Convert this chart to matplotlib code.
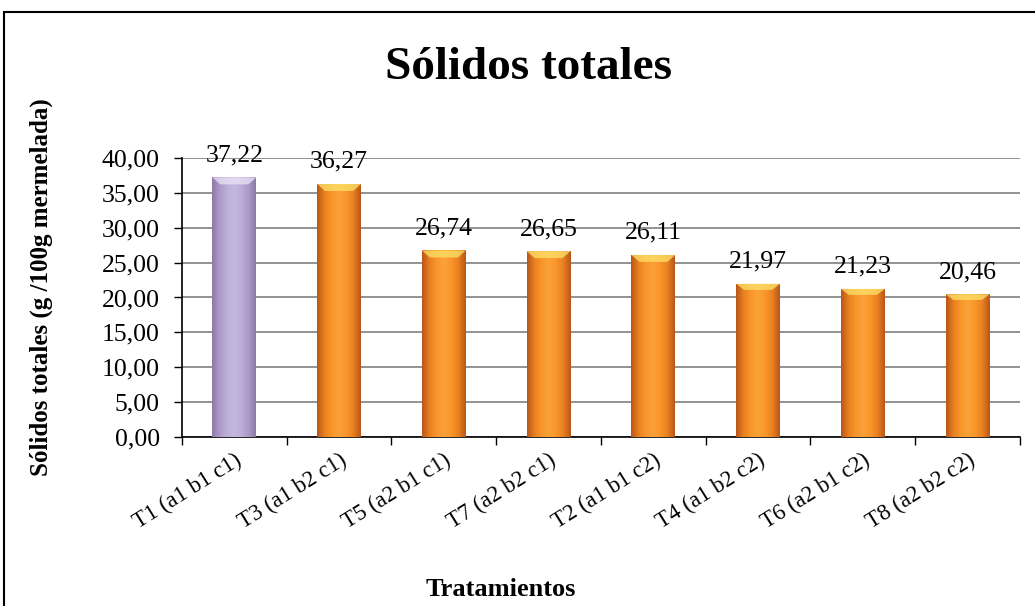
import numpy as np
import matplotlib.pyplot as plt
from matplotlib.colors import LinearSegmentedColormap
from matplotlib.patches import Rectangle
from matplotlib.ticker import FuncFormatter, FixedLocator

plt.rcParams['font.family'] = ['Liberation Serif', 'DejaVu Serif']

tratamientos = ['T1 (a1 b1 c1)', 'T3 (a1 b2 c1)', 'T5 (a2 b1 c1)', 'T7 (a2 b2 c1)',
                'T2 (a1 b1 c2)', 'T4 (a1 b2 c2)', 'T6 (a2 b1 c2)', 'T8 (a2 b2 c2)']
solidos = [37.22, 36.27, 26.74, 26.65, 26.11, 21.97, 21.23, 20.46]
grupo = ['lila', 'naranja', 'naranja', 'naranja', 'naranja', 'naranja', 'naranja', 'naranja']

paletas = {
    'naranja': ['#b8561a', '#e8801f', '#f9962a', '#fba23a', '#f9962a', '#e8801f', '#b8561a'],
    'lila': ['#8d7aa6', '#ab99c7', '#bcaed8', '#c4b7de', '#bcaed8', '#ab99c7', '#8d7aa6'],
}
brillo = {'naranja': '#fde36a', 'lila': '#ece4f6'}

fig = plt.figure(figsize=(10.35, 6.06), dpi=100)
ax = fig.add_axes([0.1758, 0.2789, 0.8097, 0.4604])

x = np.arange(len(tratamientos))
ancho = 0.42
barras = ax.bar(x, solidos, width=ancho, color='none', zorder=3)

# horizontal gradient inside each bar plus a light bevel at the top
perfil = np.linspace(0, 1, 200).reshape(1, -1)
for b, g in zip(barras, grupo):
    cmap = LinearSegmentedColormap.from_list(g, paletas[g])
    x0, y0 = b.get_x(), b.get_y()
    w, h = b.get_width(), b.get_height()
    im = ax.imshow(perfil, cmap=cmap, aspect='auto', extent=[x0, x0 + w, y0, y0 + h],
                   zorder=3, interpolation='bilinear')
    im.set_clip_path(b)
    tope = min(1.0, h * 0.04)
    ax.fill([x0, x0 + w, x0 + w * 0.82, x0 + w * 0.18],
            [y0 + h, y0 + h, y0 + h - tope, y0 + h - tope],
            color=brillo[g], alpha=0.75, zorder=4, lw=0)

for xi, v in zip(x, solidos):
    ax.annotate(f'{v:.2f}'.replace('.', ','), (xi, v), xytext=(0, 8),
                textcoords='offset points', ha='center', va='bottom', fontsize=18.5)

ax.set_xlim(-0.5, len(tratamientos) - 0.5)
ax.set_ylim(0, 40)
ax.set_yticks(np.arange(0, 41, 5))
ax.yaxis.set_major_formatter(FuncFormatter(lambda v, p: f'{v:.2f}'.replace('.', ',')))
ax.tick_params(axis='y', labelsize=18.5, direction='out', length=6, width=1, pad=10)
ax.yaxis.grid(True, color='#7f7f7f', linewidth=1.2, zorder=0)
ax.set_axisbelow(True)

ax.xaxis.set_major_locator(FixedLocator(x))
ax.set_xticklabels(tratamientos, rotation=32, ha='right', rotation_mode='anchor', fontsize=16.5)
ax.tick_params(axis='x', length=0, pad=9)
ax.xaxis.set_minor_locator(FixedLocator(np.arange(-0.5, len(tratamientos), 1)))
ax.tick_params(axis='x', which='minor', direction='out', length=6, width=1)

for s in ['top', 'right']:
    ax.spines[s].set_visible(False)
ax.spines['left'].set_linewidth(1.2)
ax.spines['bottom'].set_linewidth(1.2)

fig.text(0.511, 0.888, 'Sólidos totales', ha='center', va='center',
         fontsize=34, fontweight='bold')
fig.text(0.040, 0.527, 'Sólidos totales (g /100g mermelada)', ha='center', va='center',
         rotation=90, fontsize=18, fontweight='bold')
fig.text(0.484, 0.028, 'Tratamientos', ha='center', va='center',
         fontsize=19, fontweight='bold')

# chart frame, open at the right and bottom edges
fig.patches.append(Rectangle((0.004, -0.1), 1.1, 1.08, transform=fig.transFigure,
                             fill=False, edgecolor='black', linewidth=1.5))

fig.savefig('out.png', dpi=100)
